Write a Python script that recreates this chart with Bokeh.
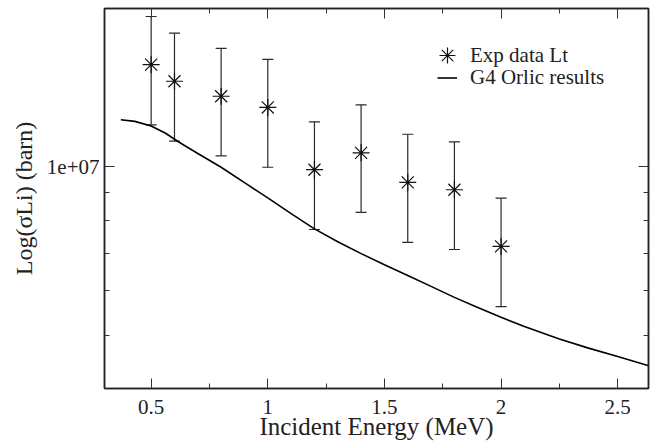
from bokeh.plotting import figure
from bokeh.models import (Range1d, FixedTicker, LinearAxis, LogAxis, Whisker, ColumnDataSource,
                          Legend, LegendItem, TeeHead, CustomJSTickFormatter)
from bokeh.embed import file_html
from bokeh.resources import INLINE

# Experimental data (Lt)
energy = [0.5, 0.6, 0.8, 1.0, 1.2, 1.4, 1.6, 1.8, 2.0]
sigma = [1.52e7, 1.42e7, 1.335e7, 1.275e7, 0.987e7, 1.058e7, 0.937e7, 0.909e7, 0.72e7]
sigma_err = [3.33e6, 3.1e6, 2.9e6, 2.78e6, 2.15e6, 2.3e6, 2.05e6, 1.98e6, 1.58e6]

# G4 Orlic results
g4_energy = [0.37, 0.43, 0.5, 0.56, 0.62, 0.7, 0.8, 0.9, 1.0, 1.1, 1.2, 1.3, 1.4, 1.5,
             1.6, 1.7, 1.8, 1.9, 2.0, 2.1, 2.25, 2.375, 2.5, 2.633]
g4_sigma = [1.212e7, 1.204e7, 1.181e7, 1.148e7, 1.105e7, 1.055e7, 0.997e7, 0.936e7, 0.879e7,
            0.824e7, 0.774e7, 0.734e7, 0.699e7, 0.668e7, 0.639e7, 0.611e7, 0.584e7, 0.56e7,
            0.538e7, 0.518e7, 0.492e7, 0.474e7, 0.458e7, 0.441e7]

x_major = [0.5, 1.0, 1.5, 2.0, 2.5]
x_minor = [0.75, 1.25, 1.75, 2.25]
y_major = [1e7]
y_minor = [5e6, 6e6, 7e6, 8e6, 9e6]

FONT = "Liberation Serif"

p = figure(width=654, height=445, y_axis_type="log",
           x_range=Range1d(0.3, 2.632), y_range=Range1d(4.015e6, 1.915e7),
           output_backend="svg", toolbar_location=None,
           min_border_left=104, min_border_right=6, min_border_top=8, min_border_bottom=57)
p.xgrid.visible = False
p.ygrid.visible = False
p.outline_line_color = "#222222"
p.outline_line_width = 1.5
p.background_fill_color = "white"
p.border_fill_color = "white"

xt = FixedTicker(ticks=x_major, minor_ticks=x_minor)
yt = FixedTicker(ticks=y_major, minor_ticks=y_minor)
yfmt = CustomJSTickFormatter(code="return tick.toExponential().replace(/e([+-])(\\d)$/, 'e$10$2');")
blank = CustomJSTickFormatter(code="return '';")

def style(ax):
    ax.major_tick_in = 10
    ax.major_tick_out = 0
    ax.minor_tick_in = 5
    ax.minor_tick_out = 0
    ax.axis_line_color = "#222222"
    ax.axis_line_width = 1.5
    ax.major_tick_line_color = "#333333"
    ax.minor_tick_line_color = "#333333"
    ax.major_label_text_font = FONT
    ax.major_label_text_color = "#222222"
    ax.axis_label_text_font = FONT
    ax.axis_label_text_font_style = "normal"
    ax.axis_label_text_color = "#222222"

xa = p.xaxis[0]
xa.ticker = xt
xa.axis_label = "Incident Energy (MeV)"
style(xa)
xa.major_label_text_font_size = "21px"
xa.axis_label_text_font_size = "25px"
xa.major_label_standoff = 11
xa.axis_label_standoff = -4

ya = p.yaxis[0]
ya.ticker = yt
ya.formatter = yfmt
ya.axis_label = "Log(σLi) (barn)"
style(ya)
ya.major_label_text_font_size = "21px"
ya.axis_label_text_font_size = "24px"
ya.major_label_standoff = 5
ya.axis_label_standoff = 7

top = LinearAxis(ticker=xt, formatter=blank)
style(top)
top.major_label_text_font_size = "1px"
top.major_label_standoff = 0
p.add_layout(top, "above")
right = LogAxis(ticker=yt, formatter=blank)
style(right)
right.major_label_text_font_size = "1px"
right.major_label_standoff = 0
p.add_layout(right, "right")

src = ColumnDataSource(data=dict(
    x=energy, y=sigma,
    upper=[s + e for s, e in zip(sigma, sigma_err)],
    lower=[s - e for s, e in zip(sigma, sigma_err)],
))

wh = Whisker(source=src, base="x", upper="upper", lower="lower",
             line_color="#2a2a2a", line_width=1.2,
             upper_head=TeeHead(size=11, line_color="#2a2a2a", line_width=1.2),
             lower_head=TeeHead(size=11, line_color="#2a2a2a", line_width=1.2))
p.add_layout(wh)

line = p.line(g4_energy, g4_sigma, line_color="black", line_width=1.6)
stars = p.scatter("x", "y", source=src, marker="asterisk", size=17,
                  line_color="#111111", line_width=1.2)

common = dict(padding=0, spacing=0, margin=0, border_line_color=None, background_fill_alpha=0,
              label_text_font=FONT, label_text_font_size="21px", label_text_color="#222222")
# star entry: larger glyph box so the legend marker is drawn at a visible size
leg1 = Legend(items=[LegendItem(label="Exp data Lt", renderers=[stars])],
              location=(323, 313), glyph_width=40, glyph_height=40, label_height=40,
              label_standoff=3, **common)
leg2 = Legend(items=[LegendItem(label="G4 Orlic results", renderers=[line])],
              location=(333, 298), glyph_width=20, glyph_height=23, label_height=23,
              label_standoff=13, **common)
p.add_layout(leg1)
p.add_layout(leg2)

open("out.html", "w").write(file_html(p, INLINE))
